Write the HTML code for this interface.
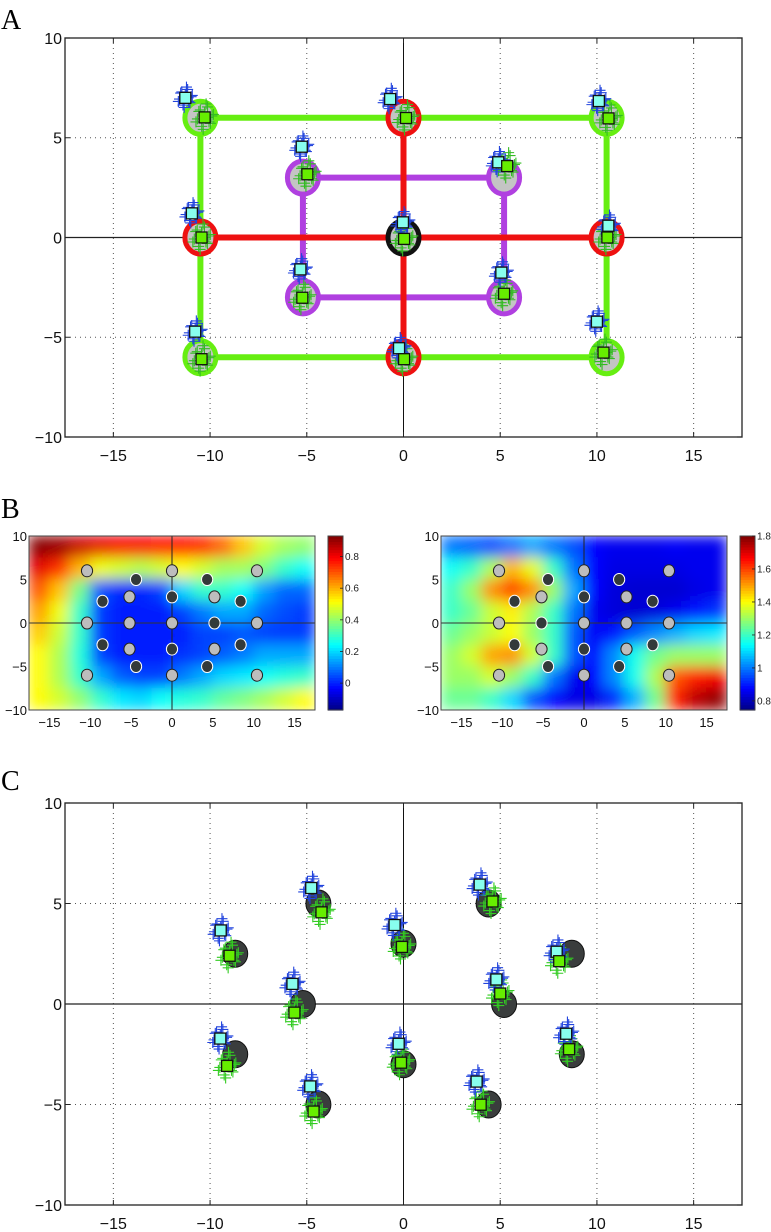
<!DOCTYPE html>
<html><head><meta charset="utf-8">
<style>
html,body{margin:0;padding:0;background:#fff;}
svg{display:block;font-family:"Liberation Sans",Arial,sans-serif;}
</style></head>
<body>
<svg id="fig" width="771" height="1232" viewBox="0 0 771 1232" xmlns="http://www.w3.org/2000/svg">
<defs>
<filter id="blurA" x="0" y="0" width="1" height="1"><feGaussianBlur stdDeviation="7" edgeMode="duplicate"/></filter>
<clipPath id="clipBL"><rect x="29" y="536" width="286" height="174"/></clipPath>
<clipPath id="clipBR"><rect x="441" y="536" width="286" height="174"/></clipPath>
</defs>
<text x="1" y="29" font-family="Liberation Serif,serif" font-size="28">A</text>
<text x="1" y="518" font-family="Liberation Serif,serif" font-size="28">B</text>
<text x="1" y="790" font-family="Liberation Serif,serif" font-size="28">C</text>
</svg>
<script>
// ---------- data ----------
var xTicks = [-15,-10,-5,0,5,10,15];
var yTicks = [-10,-5,0,5,10];
// Panel A: true targets, ring colours, estimates
var aTargetX = [-10.5,0,10.5,-5.2,5.2,-10.5,0,10.5,-5.2,5.2,-10.5,0,10.5];
var aTargetY = [6,6,6,3,3,0,0,0,-3,-3,-6,-6,-6];
var aRingColor = ['#66ee11','#ee1111','#66ee11','#b040e0','#b040e0','#ee1111','#111111','#ee1111','#b040e0','#b040e0','#66ee11','#ee1111','#66ee11'];
var aCyanX = [-11.28,-0.69,10.1,-5.26,4.9,-10.94,-0.03,10.59,-5.33,5.06,-10.77,-0.23,10.0];
var aCyanY = [7.0,6.94,6.84,4.55,3.77,1.21,0.76,0.59,-1.6,-1.76,-4.72,-5.55,-4.22];
var aGreenX = [-10.28,0.13,10.6,-4.97,5.36,-10.44,0.03,10.54,-5.23,5.2,-10.44,0.03,10.34];
var aGreenY = [6.02,5.99,5.97,3.17,3.58,0,-0.07,0,-3.02,-2.82,-6.1,-6.1,-5.77];
// Panel C
var cTargetX = [-8.7,-4.4,0,4.4,8.7,-5.2,5.2,-8.7,-4.4,0,4.4,8.7];
var cTargetY = [2.5,5,3,5,2.5,0,0,-2.5,-5,-3,-5,-2.5];
var cCyanX = [-9.45,-4.77,-0.46,3.94,7.92,-5.74,4.8,-9.47,-4.82,-0.25,3.78,8.41];
var cCyanY = [3.66,5.77,3.93,5.94,2.6,1.0,1.22,-1.72,-4.1,-1.98,-3.86,-1.48];
var cGreenX = [-8.99,-4.24,-0.08,4.6,8.05,-5.64,5.0,-9.12,-4.65,3.99,-0.13,8.56];
var cGreenY = [2.4,4.56,2.84,5.1,2.13,-0.43,0.52,-3.08,-5.35,-5.01,-2.92,-2.25];
// scatter cloud offsets (units)
var cloudDX = [0,0.3,-0.3,0.5,-0.5,0.2,-0.2,0.4,-0.4,0.1,-0.1,0.6,-0.6,0.25];
var cloudDY = [0.3,-0.3,0.5,0.1,-0.1,0.7,-0.6,-0.4,0.4,0.9,-0.8,0.2,-0.3,0.0];
// Panel B points
var bGreyX = [-10.4,0,10.4,-5.2,5.2,-10.4,0,10.4,-5.2,5.2,-10.4,0,10.4];
var bGreyY = [6,6,6,3,3,0,0,0,-3,-3,-6,-6,-6];
var bDarkX = [-4.4,4.3,-8.5,0,8.4,-8.5,0,8.4,-4.4,4.3];
var bDarkY = [5,5,2.5,3,2.5,-2.5,-3,-2.5,-5,-5];
var bLeftExtra = {x:[-5.2,5.2], y:[0,0], dark:[false,true]};
var bRightExtra = {x:[-5.2,5.2], y:[0,0], dark:[true,false]};
// heatmap grid (column centres -16.25..16.25 step 2.5, row centres 8.75..-8.75)
var heatCols = [-16.25,-13.75,-11.25,-8.75,-6.25,-3.75,-1.25,1.25,3.75,6.25,8.75,11.25,13.75,16.25];
var heatRows = [8.75,6.25,3.75,1.25,-1.25,-3.75,-6.25,-8.75];
var heatLeft = [
[0.92,0.9,0.85,0.82,0.8,0.8,0.78,0.78,0.75,0.68,0.58,0.47,0.42,0.4],
[0.82,0.74,0.6,0.5,0.47,0.44,0.47,0.52,0.47,0.42,0.42,0.38,0.3,0.25],
[0.7,0.58,0.37,0.06,0.01,0.01,0.04,0.2,0.3,0.3,0.25,0.14,0.08,0.08],
[0.62,0.5,0.3,0.03,0.0,0.0,0.0,0.04,0.1,0.15,0.15,0.08,0.05,0.03],
[0.57,0.46,0.3,0.03,0.0,0.0,0.0,0.0,0.04,0.04,0.06,0.04,0.03,0.03],
[0.52,0.43,0.28,0.04,0.0,0.0,0.0,0.02,0.04,0.07,0.1,0.15,0.15,0.15],
[0.52,0.43,0.3,0.15,0.07,0.04,0.04,0.1,0.15,0.2,0.22,0.25,0.28,0.3],
[0.52,0.47,0.4,0.3,0.22,0.2,0.25,0.28,0.3,0.35,0.38,0.42,0.47,0.52]];
var heatRight = [
[1.0,0.98,0.96,1.0,1.05,1.0,0.96,0.88,0.86,0.86,0.86,0.87,0.86,0.86],
[1.15,1.2,1.32,1.48,1.38,1.2,1.0,0.88,0.85,0.85,0.85,0.85,0.86,0.86],
[1.2,1.3,1.52,1.6,1.52,1.3,1.05,0.88,0.84,0.83,0.83,0.83,0.85,0.86],
[1.2,1.25,1.35,1.42,1.32,1.2,1.0,0.86,0.84,0.83,0.84,0.86,0.9,0.93],
[1.25,1.3,1.35,1.4,1.3,1.2,0.97,0.87,0.9,0.97,1.02,1.06,1.1,1.12],
[1.3,1.36,1.5,1.52,1.36,1.2,0.97,0.88,1.02,1.16,1.26,1.3,1.3,1.3],
[1.3,1.3,1.36,1.3,1.2,1.0,0.86,0.88,1.02,1.16,1.32,1.58,1.64,1.68],
[1.25,1.25,1.2,1.1,0.96,0.88,0.85,0.85,0.92,1.06,1.26,1.64,1.74,1.78]];
var cbLeftTicks = [0,0.2,0.4,0.6,0.8];
var cbRightTicks = [0.8,1,1.2,1.4,1.6,1.8];
var cbLeftRange = [-0.17,0.93];
var cbRightRange = [0.745,1.8];

// ---------- helpers ----------
var NS = 'http://www.w3.org/2000/svg';
var svg = document.getElementById('fig');
function mk(tag, attrs, parent){
  var e = document.createElementNS(NS, tag);
  for (var k in attrs) e.setAttribute(k, attrs[k]);
  (parent||svg).appendChild(e); return e;
}
function jet(t){
  t = Math.max(0, Math.min(1, t));
  function c(v){ return Math.round(255*Math.max(0, Math.min(1, v))); }
  return 'rgb('+c(1.5-Math.abs(4*t-3))+','+c(1.5-Math.abs(4*t-2))+','+c(1.5-Math.abs(4*t-1))+')';
}
function makeAxes(L,R,T,B){
  return {
    L:L,R:R,T:T,B:B,
    sx:function(u){ return L + (u+17.5)/35*(R-L); },
    sy:function(v){ return T + (10-v)/20*(B-T); }
  };
}
function drawFrame(ax, name, fs, gridDots){
  var g = mk('g', {});
  
  
  if (gridDots){
    xTicks.forEach(function(t){ if (t===0) return;
      var l = mk('line',{x1:ax.sx(t),x2:ax.sx(t),y1:ax.T,y2:ax.B,stroke:'#555','stroke-width':1,'stroke-dasharray':'1,4'},g);
      
      
    });
    yTicks.forEach(function(t){ if (t===0||Math.abs(t)===10) return;
      var l = mk('line',{x1:ax.L,x2:ax.R,y1:ax.sy(t),y2:ax.sy(t),stroke:'#555','stroke-width':1,'stroke-dasharray':'1,4'},g);
      
      
    });
  }
  var zx = mk('line',{x1:ax.sx(0),x2:ax.sx(0),y1:ax.T,y2:ax.B,stroke:'#111','stroke-width':1},g);
  
  
  var zy = mk('line',{x1:ax.L,x2:ax.R,y1:ax.sy(0),y2:ax.sy(0),stroke:'#222','stroke-width':1.2},g);
  
  
  return g;
}
function drawBox(ax, name, fs, labelGap){
  var g = mk('g', {});
  
  
  mk('rect',{x:ax.L,y:ax.T,width:ax.R-ax.L,height:ax.B-ax.T,fill:'none',stroke:'#333','stroke-width':1.4},g);
  xTicks.forEach(function(t){
    mk('line',{x1:ax.sx(t),x2:ax.sx(t),y1:ax.B,y2:ax.B-5,stroke:'#222','stroke-width':1},g);
    mk('line',{x1:ax.sx(t),x2:ax.sx(t),y1:ax.T,y2:ax.T+5,stroke:'#222','stroke-width':1},g);
    var tx = mk('text',{x:ax.sx(t),y:ax.B+labelGap,'text-anchor':'middle','font-size':fs,fill:'#111'},g);
    tx.textContent = (t<0?'\u2212'+(-t):''+t);
    
    
  });
  yTicks.forEach(function(t){
    mk('line',{x1:ax.L,x2:ax.L+5,y1:ax.sy(t),y2:ax.sy(t),stroke:'#222','stroke-width':1},g);
    mk('line',{x1:ax.R,x2:ax.R-5,y1:ax.sy(t),y2:ax.sy(t),stroke:'#222','stroke-width':1},g);
    var ty = mk('text',{x:ax.L-3,y:ax.sy(t)+fs*0.36,'text-anchor':'end','font-size':fs,fill:'#111'},g);
    ty.textContent = (t<0?'\u2212'+(-t):''+t);
    
    
  });
}
function cross(g, x, y, color, s){
  mk('path',{d:'M'+(x-s)+' '+y+'H'+(x+s)+'M'+x+' '+(y-s)+'V'+(y+s),stroke:color,'stroke-width':1.1,fill:'none'},g);
}
function cloud(ax, g, cx, cy, color, spread){
  for (var i=0;i<cloudDX.length;i++){
    cross(g, ax.sx(cx+cloudDX[i]*spread), ax.sy(cy+cloudDY[i]*spread), color, 5.5);
  }
}
function square(ax, g, x, y, fill, name){
  var r = mk('rect',{x:ax.sx(x)-5.5,y:ax.sy(y)-5.5,width:11,height:11,fill:fill,stroke:'#111','stroke-width':1.3},g);
  
  
}

// ---------- Panel A ----------
var A = makeAxes(65,742,38,437);
drawFrame(A,'panel-a',16,true);
var aLines = mk('g',{'stroke-width':6,fill:'none','stroke-linecap':'butt'});


mk('polygon',{points:[0,2,12,10].map(function(i){return A.sx(aTargetX[i])+','+A.sy(aTargetY[i]);}).join(' '),stroke:'#66ee11'},aLines);
mk('polygon',{points:[3,4,9,8].map(function(i){return A.sx(aTargetX[i])+','+A.sy(aTargetY[i]);}).join(' '),stroke:'#b040e0'},aLines);
mk('line',{x1:A.sx(aTargetX[5]),y1:A.sy(aTargetY[5]),x2:A.sx(aTargetX[7]),y2:A.sy(aTargetY[7]),stroke:'#ee1111'},aLines);
mk('line',{x1:A.sx(aTargetX[1]),y1:A.sy(aTargetY[1]),x2:A.sx(aTargetX[11]),y2:A.sy(aTargetY[11]),stroke:'#ee1111'},aLines);
var aMarks = mk('g',{});


for (var i=0;i<aTargetX.length;i++){
  var c = mk('ellipse',{cx:A.sx(aTargetX[i]),cy:A.sy(aTargetY[i]),rx:15.5,ry:16.5,fill:'#c4c4c4',stroke:aRingColor[i],'stroke-width':5},aMarks);
  
  
}
for (var i=0;i<aTargetX.length;i++){
  cloud(A, aMarks, aGreenX[i], aGreenY[i], '#33bb22', 0.75);
  cloud(A, aMarks, aCyanX[i], aCyanY[i], '#2244dd', 0.6);
}
for (var i=0;i<aTargetX.length;i++){
  square(A, aMarks, aCyanX[i], aCyanY[i], '#88ffee', 'estimate-cyan');
  square(A, aMarks, aGreenX[i], aGreenY[i], '#66ee00', 'estimate-green');
}
drawBox(A,'panel-a',16,24);

// ---------- Panel B ----------
function heatPanel(L, data, range, clip, name, extra, cbL, cbTicks){
  var ax = makeAxes(L, L+286, 536, 710);
  var cw = (ax.R-ax.L)/14, ch = (ax.B-ax.T)/8;
  var outer = mk('g',{'clip-path':'url(#'+clip+')'});
  
  
  var hg = mk('g',{filter:'url(#blurA)'},outer);
  for (var r=0;r<heatRows.length;r++){
    for (var c=0;c<heatCols.length;c++){
      var t = (data[r][c]-range[0])/(range[1]-range[0]);
      var cell = mk('rect',{x:ax.sx(heatCols[c])-cw/2-0.5,y:ax.sy(heatRows[r])-ch/2-0.5,width:cw+1,height:ch+1,fill:jet(t)},hg);
      
      
    }
  }
  mk('line',{x1:ax.sx(0),x2:ax.sx(0),y1:ax.T,y2:ax.B,stroke:'#222','stroke-width':1},outer);
  mk('line',{x1:ax.L,x2:ax.R,y1:ax.sy(0),y2:ax.sy(0),stroke:'#333','stroke-width':1},outer);
  var pts = mk('g',{});
  
  
  function dot(x,y,dark){
    var e = mk('ellipse',{cx:ax.sx(x),cy:ax.sy(y),rx:5.6,ry:6,fill:dark?'#333a3a':'#bdbdbd',stroke:dark?'#fff':'#222','stroke-width':1},pts);
    
    
  }
  for (var i=0;i<bGreyX.length;i++){ if (!(bGreyX[i]===-5.2&&bGreyY[i]===0)) dot(bGreyX[i],bGreyY[i],false); }
  for (var i=0;i<bDarkX.length;i++) dot(bDarkX[i],bDarkY[i],true);
  for (var i=0;i<extra.x.length;i++) dot(extra.x[i],extra.y[i],extra.dark[i]);
  mk('rect',{x:ax.L,y:ax.T,width:286,height:174,fill:'none',stroke:'#444','stroke-width':1});
  xTicks.forEach(function(t){
    var tx = mk('text',{x:ax.sx(t),y:ax.B+17,'text-anchor':'middle','font-size':13,fill:'#111'});
    tx.textContent = (t<0?'\u2212'+(-t):''+t);
    
    
  });
  yTicks.forEach(function(t){
    var ty = mk('text',{x:ax.L-2,y:ax.sy(t)+5,'text-anchor':'end','font-size':13,fill:'#111'});
    ty.textContent = (t<0?'\u2212'+(-t):''+t);
    
    
  });
  var cb = mk('g',{});
  
  
  var steps = 64, hh = 174/steps;
  for (var s=0;s<steps;s++){
    mk('rect',{x:cbL,y:536+174-(s+1)*hh,width:15,height:hh+0.6,fill:jet((s+0.5)/steps)},cb);
  }
  mk('rect',{x:cbL,y:536,width:15,height:174,fill:'none',stroke:'#444','stroke-width':1},cb);
  cbTicks.forEach(function(v){
    var y = 710 - (v-range[0])/(range[1]-range[0])*174;
    mk('line',{x1:cbL+15,x2:cbL+12,y1:y,y2:y,stroke:'#222','stroke-width':0.8},cb);
    var t = mk('text',{x:cbL+17,y:y+3.5,'font-size':10,fill:'#222'},cb);
    t.textContent = ''+v;
    
    
  });
}
heatPanel(29, heatLeft, cbLeftRange, 'clipBL', 'panel-b-left', bLeftExtra, 328, cbLeftTicks);
heatPanel(441, heatRight, cbRightRange, 'clipBR', 'panel-b-right', bRightExtra, 740, cbRightTicks);

// ---------- Panel C ----------
var C = makeAxes(65,742,803,1205);
drawFrame(C,'panel-c',16,true);
var cMarks = mk('g',{});


for (var i=0;i<cTargetX.length;i++){
  var e = mk('ellipse',{cx:C.sx(cTargetX[i]),cy:C.sy(cTargetY[i]),rx:12.5,ry:13.5,fill:'#3a3d3d',stroke:'#111','stroke-width':1},cMarks);
  
  
}
for (var i=0;i<cTargetX.length;i++){
  cloud(C, cMarks, cGreenX[i], cGreenY[i], '#33cc22', 0.75);
  cloud(C, cMarks, cCyanX[i], cCyanY[i], '#2244dd', 0.65);
}
for (var i=0;i<cTargetX.length;i++){
  square(C, cMarks, cCyanX[i], cCyanY[i], '#88ffee', 'estimate-cyan');
  square(C, cMarks, cGreenX[i], cGreenY[i], '#66ee00', 'estimate-green');
}
drawBox(C,'panel-c',16,24);
</script>
</body></html>
